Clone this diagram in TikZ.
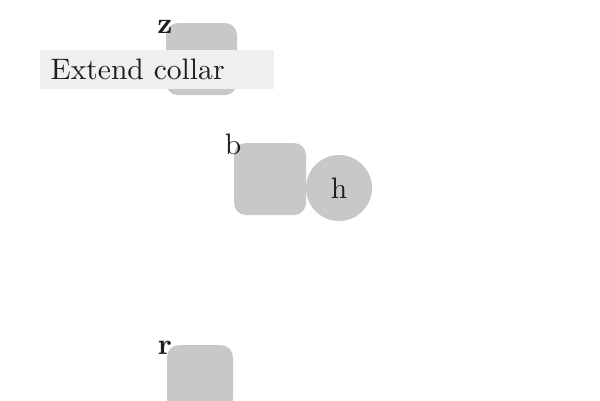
\documentclass[tikz,border=0pt]{standalone}
\definecolor{boxgray}{HTML}{C8C8C8}
\definecolor{lightbar}{HTML}{EFEFEF}
\definecolor{inkc}{HTML}{1E1E1E}
\tikzset{
  sqbox/.style={fill=boxgray, draw=none, rounded corners=12pt, inner sep=0pt, outer sep=0pt},
  circbox/.style={circle, fill=boxgray, draw=none, inner sep=0pt, outer sep=0pt, minimum size=66pt},
  barbox/.style={fill=lightbar, draw=none, inner sep=0pt, outer sep=0pt, anchor=north west},
  lbl/.style={text=inkc, inner sep=0pt, font=\normalsize, scale=2.96, transform shape},
  blbl/.style={lbl, font=\normalsize\bfseries}
}
\begin{document}
\begin{tikzpicture}[x=1pt,y=-1pt]
\useasboundingbox (0,0) rectangle (600,400);
\clip (0,0) rectangle (600,400);
% z square
\node[sqbox, minimum width=71pt, minimum height=72pt, anchor=north west] (zsq) at (166,23) {};
% Extend collar bar
\node[barbox, minimum width=234pt, minimum height=39pt] (bar) at (40,50) {};
\node[lbl, anchor=base west] (bartext) at (50,79) {Extend collar};
\node[blbl] (zl) at (165,27) {z};
% b square
\node[sqbox, minimum width=72pt, minimum height=72pt, anchor=north west] (bsq) at (234,143) {};
\node[lbl] (bl) at (233,144) {b};
% h circle
\node[circbox] (hc) at (339,188) {};
\node[lbl] (hl) at (339,188) {h};
% r square
\node[sqbox, minimum width=66pt, minimum height=66pt, anchor=north west] (rsq) at (167,345) {};
\node[blbl] (rl) at (165,348) {r};
\end{tikzpicture}
\end{document}
